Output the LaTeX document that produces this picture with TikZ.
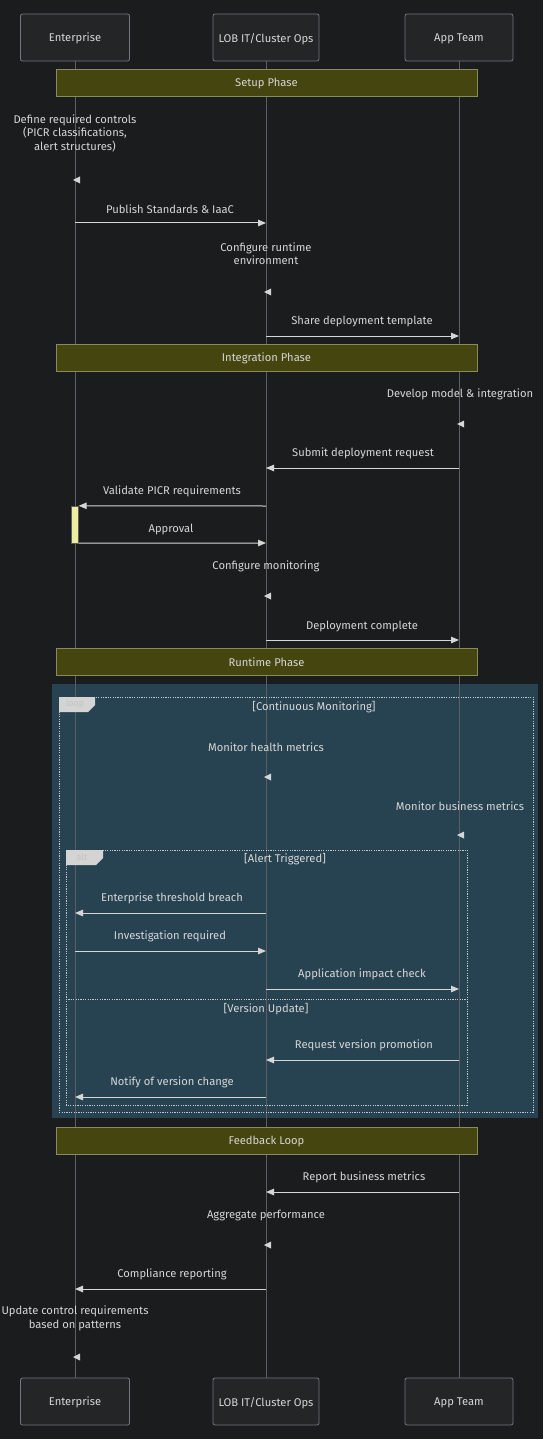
\documentclass[tikz,border=0pt]{standalone}
\usepackage{fontspec}
\setmainfont{Fira Sans}
\usetikzlibrary{arrows.meta}
\definecolor{bgc}{HTML}{1B1C1E}
\definecolor{actorfill}{HTML}{232527}
\definecolor{actorline}{HTML}{74777B}
\definecolor{lifec}{HTML}{5C5E61}
\definecolor{txt}{HTML}{D6D6D6}
\definecolor{notefill}{HTML}{45450F}
\definecolor{noteline}{HTML}{8A8A5A}
\definecolor{loopfill}{HTML}{274352}
\definecolor{dotc}{HTML}{C8C8C8}
\definecolor{tabfill}{HTML}{D4D4D4}
\definecolor{tabtxt}{HTML}{C2C2C2}
\definecolor{actfill}{HTML}{EDEE9E}
\begin{document}
\begin{tikzpicture}[x=1pt,y=-1pt,font=\fontsize{11.2}{13.5}\selectfont]
	\tikzset{actor/.style = {draw=actorline, fill=actorfill, rounded corners=2pt, minimum height=47pt, text depth=0pt, text=txt, line width=0.8pt}}
	\tikzset{phase/.style = {draw=noteline, fill=notefill, minimum width=421pt, minimum height=27pt, text depth=0pt, text=txt, line width=0.8pt}}
	\tikzset{lbl/.style = {text=txt, align=center, inner sep=0pt}}
	\tikzset{msg/.style = {draw=txt, line width=1pt, -{Triangle[length=8pt,width=6.5pt]}}}
	\tikzset{selfhead/.style = {fill=txt}}
	\tikzset{frame/.style = {draw=dotc, line width=0.9pt, dash pattern=on 1.2pt off 1.2pt}}

	% background
	\fill[bgc] (0,0) rectangle (543,1439);
	\fill[loopfill] (52,684) rectangle (538,1118);

	% actors
	\node[actor, minimum width=109pt] (ent) at (75,37.5) {Enterprise};
	\node[actor, minimum width=106pt] (lob) at (266,37.5) {LOB IT/Cluster Ops};
	\node[actor, minimum width=108pt] (app) at (459,37.5) {App Team};
	\node[actor, minimum width=109pt] (entb) at (75,1401.5) {Enterprise};
	\node[actor, minimum width=106pt] (lobb) at (266,1401.5) {LOB IT/Cluster Ops};
	\node[actor, minimum width=108pt] (appb) at (459,1401.5) {App Team};

	\draw[lifec, line width=1pt] (ent) -- (entb);
	\draw[lifec, line width=1pt] (lob) -- (lobb);
	\draw[lifec, line width=1pt] (app) -- (appb);

	% setup phase
	\node[phase] (p1) at (266.5,82.5) {Setup Phase};
	\node[lbl] (s1) at (75,133) {Define required controls\\(PICR classifications,\\alert structures)};
	\fill[selfhead] (ent |- 0,180) ++(-2,0) -- ++(7,-3.5) -- ++(0,7) -- cycle;
	\node[lbl] (m1) at (170,209) {Publish Standards \& IaaC};
	\draw[msg] (ent |- 0,223) -- (lob |- 0,223);
	\node[lbl] (s2) at (266,253.5) {Configure runtime\\environment};
	\fill[selfhead] (lob |- 0,292) ++(-2,0) -- ++(7,-3.5) -- ++(0,7) -- cycle;
	\node[lbl] (m2) at (362,321) {Share deployment template};
	\draw[msg] (lob |- 0,336) -- (app |- 0,336);

	% integration phase
	\node[phase] (p2) at (266.5,357.5) {Integration Phase};
	\node[lbl] (s3) at (460,394) {Develop model \& integration};
	\fill[selfhead] (app |- 0,424) ++(-2,0) -- ++(7,-3.5) -- ++(0,7) -- cycle;
	\node[lbl] (m3) at (363,453) {Submit deployment request};
	\draw[msg] (app |- 0,468) -- (lob |- 0,468);
	\node[lbl] (m4) at (172,491) {Validate PICR requirements};
	\node[draw=lifec, fill=actfill, minimum width=7pt, minimum height=37pt, inner sep=0pt] (act) at (75,524.5) {};
	\draw[msg] (lob |- 0,506) -- (act.north east);
	\node[lbl] (m5) at (171,529) {Approval};
	\draw[msg] (act.south east) -- (lob |- 0,543);
	\node[lbl] (s4) at (266,566) {Configure monitoring};
	\fill[selfhead] (lob |- 0,596) ++(-2,0) -- ++(7,-3.5) -- ++(0,7) -- cycle;
	\node[lbl] (m6) at (362,626) {Deployment complete};
	\draw[msg] (lob |- 0,640) -- (app |- 0,640);

	% runtime phase
	\node[phase] (p3) at (266.5,662) {Runtime Phase};
	\draw[frame] (59,697) rectangle (533,1112);
	\fill[tabfill] (59,697) -- (95,697) -- (95,705) -- (88,712) -- (59,712) -- cycle;
	\node[text=tabtxt, font=\fontsize{9}{10}\selectfont] (lp) at (75,704.5) {loop};
	\node[lbl] (c1) at (314,707.5) {[Continuous Monitoring]};
	\node[lbl] (s5) at (266,747) {Monitor health metrics};
	\fill[selfhead] (lob |- 0,777) ++(-2,0) -- ++(7,-3.5) -- ++(0,7) -- cycle;
	\node[lbl] (s6) at (460,806) {Monitor business metrics};
	\fill[selfhead] (app |- 0,835) ++(-2,0) -- ++(7,-3.5) -- ++(0,7) -- cycle;
	\draw[frame] (66,850) rectangle (467,1105);
	\fill[tabfill] (66,850) -- (103,850) -- (103,858) -- (96,865) -- (66,865) -- cycle;
	\node[text=tabtxt, font=\fontsize{9}{10}\selectfont] (ap) at (82,857.5) {alt};
	\node[lbl] (c2) at (285,859.5) {[Alert Triggered]};
	\node[lbl] (m7) at (172,898) {Enterprise threshold breach};
	\draw[msg] (lob |- 0,913) -- (ent |- 0,913);
	\node[lbl] (m8) at (170,936) {Investigation required};
	\draw[msg] (ent |- 0,951) -- (lob |- 0,951);
	\node[lbl] (m9) at (362,974) {Application impact check};
	\draw[msg] (lob |- 0,989) -- (app |- 0,989);
	\draw[frame] (66,999) -- (467,999);
	\node[lbl] (c3) at (266,1009.5) {[Version Update]};
	\node[lbl] (m10) at (364,1045) {Request version promotion};
	\draw[msg] (app |- 0,1060) -- (lob |- 0,1060);
	\node[lbl] (m11) at (172,1082) {Notify of version change};
	\draw[msg] (lob |- 0,1097) -- (ent |- 0,1097);

	% feedback loop
	\node[phase] (p4) at (266.5,1140.5) {Feedback Loop};
	\node[lbl] (m12) at (364,1177) {Report business metrics};
	\draw[msg] (app |- 0,1192) -- (lob |- 0,1192);
	\node[lbl] (s7) at (266,1215) {Aggregate performance};
	\fill[selfhead] (lob |- 0,1245) ++(-2,0) -- ++(7,-3.5) -- ++(0,7) -- cycle;
	\node[lbl] (m13) at (172,1274) {Compliance reporting};
	\draw[msg] (lob |- 0,1289) -- (ent |- 0,1289);
	\node[lbl] (s8) at (75,1318.5) {Update control requirements\\based on patterns};
	\fill[selfhead] (ent |- 0,1357) ++(-2,0) -- ++(7,-3.5) -- ++(0,7) -- cycle;

\end{tikzpicture}
\end{document}
